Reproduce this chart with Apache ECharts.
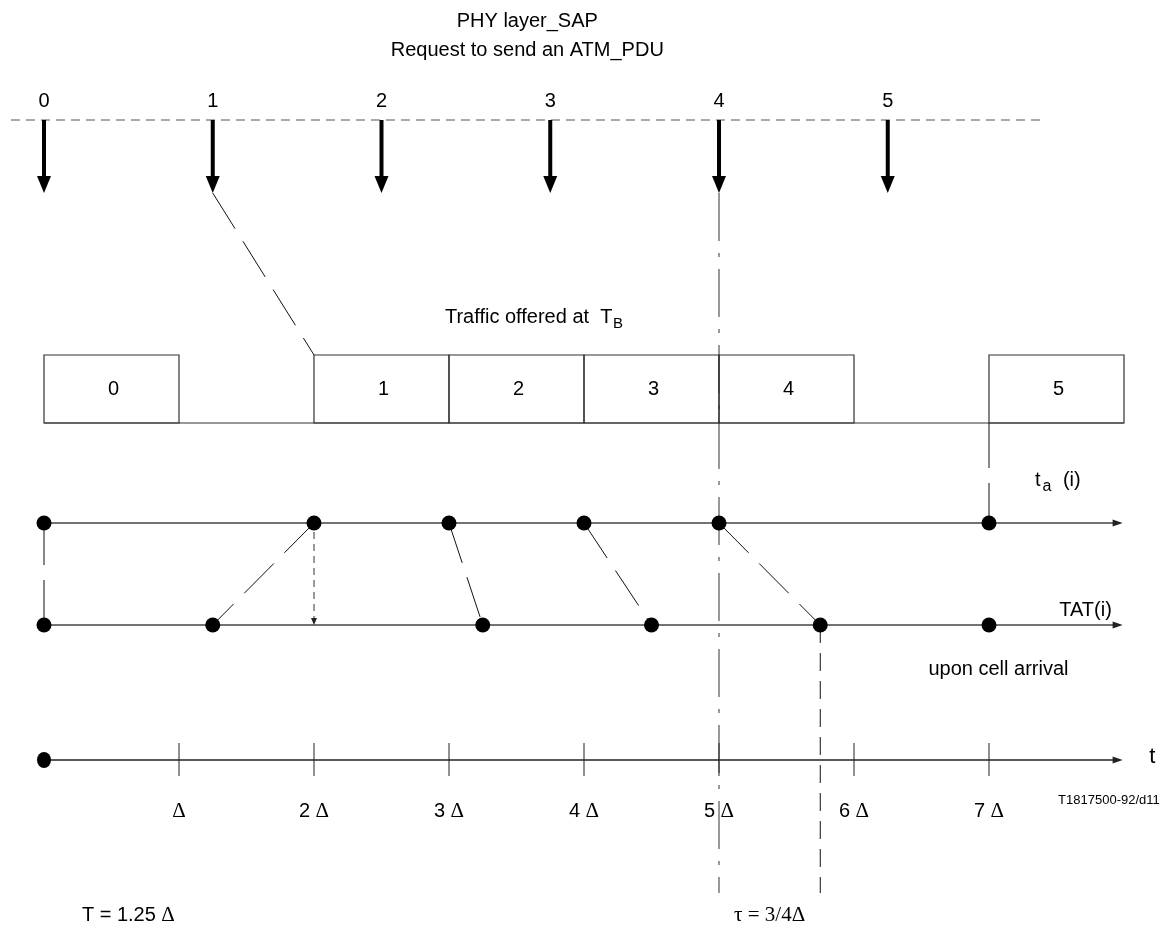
<!DOCTYPE html>
<html><head><meta charset="utf-8">
<script src="https://cdn.jsdelivr.net/npm/echarts@6/dist/echarts.min.js"></script>
<style>html,body{margin:0;padding:0;background:#fff}#chart{width:1167px;height:933px}</style>
</head><body><div id="chart"></div>
<script>
// ---------- data (times in units of Δ) ----------
const requestLabels = ['0', '1', '2', '3', '4', '5'];
const requestTimes = [0, 1.25, 2.5, 3.75, 5, 6.25];
const cellLabels = ['0', '1', '2', '3', '4', '5'];
const cellStarts = [0, 2, 3, 4, 5, 7];
const cellLength = 1;
const arrivalTimes = [0, 2, 3, 4, 5, 7];
const tatTimes = [0, 1.25, 3.25, 4.5, 5.75, 7];
const tickValues = [1, 2, 3, 4, 5, 6, 7];
const tickNumbers = ['', '2', '3', '4', '5', '6', '7'];
const periodT = 1.25;
const tauValue = 0.75;

// ---------- layout (vertical rows in px, label anchors in Δ) ----------
const ROW = {title1: 21, title2: 50, reqLabel: 101, reqLine: 120, arrowTip: 193,
  traffic: 317, boxTop: 355, boxBot: 423, ta: 523, tat: 625, upon: 669,
  tAxis: 760, tickLabel: 811, note: 915, refBottom: 893};
const AXIS_END = 7.99;
const SANS = '"Liberation Sans", Arial, sans-serif';
const SERIF = '"Liberation Serif", "Times New Roman", serif';
const F = 20;

const mctx = document.createElement('canvas').getContext('2d');
function measure(t, font) { mctx.font = font; return mctx.measureText(t).width; }

function L(p1, p2, st) {
  return {type: 'line', shape: {x1: p1[0], y1: p1[1], x2: p2[0], y2: p2[1]},
    style: Object.assign({stroke: '#000', lineWidth: 1, fill: null}, st || {})};
}
function Tx(p, text, st) {
  return {type: 'text', style: Object.assign({text: text, x: p[0], y: p[1], fill: '#000',
    font: F + 'px ' + SANS, align: 'center', verticalAlign: 'middle'}, st || {})};
}
function headRight(tip, len, hw, color) {
  return {type: 'polygon', shape: {points: [[tip[0], tip[1]], [tip[0] - len, tip[1] - hw], [tip[0] - len, tip[1] + hw]]},
    style: {fill: color || '#000'}};
}
function headDown(tip, len, hw, color) {
  return {type: 'polygon', shape: {points: [[tip[0], tip[1]], [tip[0] - hw, tip[1] - len], [tip[0] + hw, tip[1] - len]]},
    style: {fill: color || '#000'}};
}

const chart = echarts.init(document.getElementById('chart'), null, {renderer: 'canvas'});

function frameRender(params, api) {
  const c = (x, y) => api.coord([x, y]);
  const ch = [];
  // titles
  ch.push(Tx(c(3.58, ROW.title1), 'PHY layer_SAP'));
  ch.push(Tx(c(3.58, ROW.title2), 'Request to send an ATM_PDU'));
  // SAP dashed line
  ch.push(L(c(requestTimes[0] - 0.245, ROW.reqLine), c(7.4, ROW.reqLine), {stroke: '#555', lineDash: [9, 6]}));
  // cell row baseline
  const lastCell = cellStarts[cellStarts.length - 1] + cellLength;
  ch.push(L(c(cellStarts[0], ROW.boxBot), c(lastCell, ROW.boxBot), {stroke: '#333', lineWidth: 1.2}));
  // Traffic offered at T_B
  const tp = c(2.97, ROW.traffic);
  const t1 = 'Traffic offered at  T';
  ch.push(Tx(tp, t1, {align: 'left'}));
  const w1 = measure(t1, F + 'px ' + SANS);
  ch.push(Tx([tp[0] + w1 + 0.5, tp[1] + 7], 'B', {align: 'left', font: '15px ' + SANS}));
  // horizontal time lines
  [ROW.ta, ROW.tat, ROW.tAxis].forEach(function (y, k) {
    ch.push(L(c(0, y), c(AXIS_END - 0.05, y), {stroke: k === 2 ? '#222' : '#444', lineWidth: 1.5}));
    ch.push(headRight(c(AXIS_END, y), 10, 3.5, '#222'));
  });
  // t_a (i)
  const ap = c(7.34, ROW.ta - 43);
  ch.push(Tx(ap, 't', {align: 'left'}));
  const wt = measure('t', F + 'px ' + SANS);
  ch.push(Tx([ap[0] + wt + 2, ap[1] + 7], 'a', {align: 'left', font: '16px ' + SANS}));
  ch.push(Tx([ap[0] + 28, ap[1]], '(i)', {align: 'left'}));
  // TAT(i)
  ch.push(Tx(c(7.91, ROW.tat - 15), 'TAT(i)', {align: 'right'}));
  ch.push(Tx(c(7.07, ROW.upon), 'upon cell arrival'));
  // t axis label and figure id
  ch.push(Tx(c(8.21, ROW.tAxis - 3), 't', {font: '22px ' + SANS}));
  ch.push(Tx(c(8.265, ROW.tickLabel - 11), 'T1817500-92/d11', {align: 'right', font: '13px ' + SANS}));
  // notes
  ch.push({type: 'text', style: {text: '{n|T = 1.25 }{d|Δ}', x: c(periodT / 2, 0)[0], y: c(0, ROW.note)[1],
    align: 'center', verticalAlign: 'middle', fill: '#000',
    rich: {n: {fontSize: F, fontFamily: SANS, fill: '#000'}, d: {fontSize: F + 1, fontFamily: SERIF, fill: '#000'}}}});
  const tauMid = arrivalTimes[4] + tauValue / 2;
  ch.push({type: 'text', style: {text: 'τ = 3/4Δ', x: c(tauMid, 0)[0], y: c(0, ROW.note)[1],
    align: 'center', verticalAlign: 'middle', fill: '#000', font: (F + 1) + 'px ' + SERIF}});
  // connectors
  ch.push(L(c(requestTimes[1], ROW.arrowTip), c(cellStarts[1], ROW.boxTop), {lineDash: [42, 15], stroke: '#111'}));
  ch.push(L(c(requestTimes[4], ROW.arrowTip), c(requestTimes[4], ROW.refBottom), {lineDash: [48, 12, 4, 12], stroke: '#333'}));
  ch.push(L(c(cellStarts[5], ROW.boxBot), c(arrivalTimes[5], ROW.ta), {lineDash: [45, 15], stroke: '#111'}));
  ch.push(L(c(tatTimes[4], ROW.tat), c(tatTimes[4], ROW.refBottom), {lineDash: [18, 10], stroke: '#111'}));
  // update arrow (TAT reset to arrival time)
  const ua = c(arrivalTimes[1], ROW.ta + 9), ub = c(arrivalTimes[1], ROW.tat - 6);
  ch.push(L(ua, ub, {lineDash: [7, 5], stroke: '#333'}));
  ch.push(headDown(c(arrivalTimes[1], ROW.tat), 7, 3, '#222'));
  return {type: 'group', children: ch};
}

function requestRender(params, api) {
  const t = api.value(0), i = api.value(1);
  const top = api.coord([t, ROW.reqLine]);
  const tip = api.coord([t, ROW.arrowTip]);
  const lab = api.coord([t, ROW.reqLabel]);
  return {type: 'group', children: [
    L(top, [tip[0], tip[1] - 15], {lineWidth: 4, stroke: '#000'}),
    headDown(tip, 17, 7, '#000'),
    Tx(lab, requestLabels[i])
  ]};
}

function cellRender(params, api) {
  const s = api.value(0), i = api.value(1);
  const a = api.coord([s, ROW.boxTop]);
  const b = api.coord([s + cellLength, ROW.boxBot]);
  return {type: 'group', children: [
    {type: 'rect', shape: {x: a[0], y: a[1], width: b[0] - a[0], height: b[1] - a[1]},
      style: {fill: null, stroke: '#333', lineWidth: 1.2}},
    Tx([(a[0] + b[0]) / 2 + 2, (a[1] + b[1]) / 2], cellLabels[i])
  ]};
}

function linkRender(params, api) {
  const a = api.coord([api.value(0), ROW.ta]);
  const b = api.coord([api.value(1), ROW.tat]);
  return L(a, b, {lineDash: [42, 15], stroke: '#111'});
}

function tickRender(params, api) {
  const v = api.value(0), i = api.value(1);
  const p1 = api.coord([v, ROW.tAxis - 17]);
  const p2 = api.coord([v, ROW.tAxis + 16]);
  const lp = api.coord([v, ROW.tickLabel]);
  const txt = tickNumbers[i] ? '{n|' + tickNumbers[i] + ' }{d|Δ}' : '{d|Δ}';
  return {type: 'group', children: [
    L(p1, p2, {stroke: '#222'}),
    {type: 'text', style: {text: txt, x: lp[0], y: lp[1], align: 'center', verticalAlign: 'middle', fill: '#000',
      rich: {n: {fontSize: F, fontFamily: SANS, fill: '#000'}, d: {fontSize: F + 1, fontFamily: SERIF, fill: '#000'}}}}
  ]};
}

const linkData = arrivalTimes.slice(0, 5).map((a, i) => [a, tatTimes[i]]);
const dotStyle = {color: '#000', opacity: 1};

chart.setOption({
  animation: false,
  backgroundColor: '#fff',
  grid: {left: 44, right: 43, top: 0, bottom: 0},
  xAxis: {type: 'value', min: 0, max: 8, show: false},
  yAxis: {type: 'value', min: 0, max: 933, inverse: true, show: false},
  series: [
    {type: 'custom', name: 'frame', data: [[0, 0]], renderItem: frameRender, z: 2, silent: true},
    {type: 'custom', name: 'requests', data: requestTimes.map((t, i) => [t, i]), renderItem: requestRender, z: 3},
    {type: 'custom', name: 'cells', data: cellStarts.map((s, i) => [s, i]), renderItem: cellRender, z: 3},
    {type: 'custom', name: 'links', data: linkData, renderItem: linkRender, z: 2},
    {type: 'custom', name: 'ticks', data: tickValues.map((v, i) => [v, i]), renderItem: tickRender, z: 2},
    {type: 'scatter', name: 'arrival', data: arrivalTimes.map(t => [t, ROW.ta]), symbol: 'circle', symbolSize: 15,
      itemStyle: dotStyle, z: 5},
    {type: 'scatter', name: 'TAT', data: tatTimes.map(t => [t, ROW.tat]), symbol: 'circle', symbolSize: 15,
      itemStyle: dotStyle, z: 5},
    {type: 'scatter', name: 'origin', data: [[0, ROW.tAxis]], symbol: 'circle', symbolSize: [14, 16],
      itemStyle: dotStyle, z: 5}
  ]
});
</script>
</body></html>
